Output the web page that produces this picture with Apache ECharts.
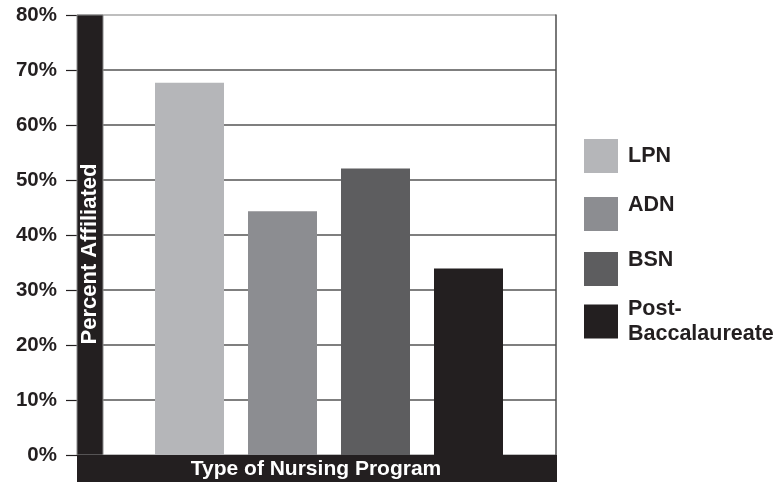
<!DOCTYPE html>
<html>
<head>
<meta charset="utf-8">
<script src="https://cdn.jsdelivr.net/npm/echarts@6/dist/echarts.min.js"></script>
<style>
  html, body { margin: 0; padding: 0; background: #fff; }
  #chart { width: 778px; height: 482px; }
</style>
</head>
<body>
<div id="chart"></div>
<script>
const programs = ['LPN', 'ADN', 'BSN', 'Post-\nBaccalaureate']
const percentAffiliated = [67.7, 44.3, 52.1, 33.9]
const barColors = ['#b5b6b9', '#8c8d91', '#5d5d5f', '#231f20']
const yMin = 0
const yMax = 80
const yStep = 10

const dark = '#231f20'
const font = 'Liberation Sans'

const chart = echarts.init(document.getElementById('chart'))

// one stacked series per program so the legend gets one swatch each
const series = programs.map((name, i) => ({
  name,
  type: 'bar',
  xAxisIndex: 1,
  yAxisIndex: 1,
  stack: 'all',
  barWidth: 69,
  itemStyle: { color: barColors[i] },
  data: programs.map((_, j) => (j === i ? percentAffiliated[i] : '-'))
}))

// legend text sits a little high next to its swatch in the original
const legendLabel = name => {
  if (name === 'LPN') return '{c|' + name + '}'
  if (name.indexOf('\n') >= 0) {
    const parts = name.split('\n')
    return '{t|' + parts[0] + '}\n{b|' + parts[1] + '}'
  }
  return '{h|' + name + '}'
}
const legendTop = [139, 139 + 55, 139 + 110, 290]

const txt = { fontSize: 21.5, fontWeight: 'bold', color: dark, fontFamily: font }

const legends = programs.map((name, i) => ({
  orient: 'vertical',
  left: 584,
  top: legendTop[i],
  icon: 'rect',
  itemWidth: 34,
  itemHeight: 34,
  padding: 0,
  selectedMode: false,
  formatter: legendLabel,
  textStyle: {
    ...txt,
    rich: {
      c: { ...txt, lineHeight: 25, padding: [0, 0, 0, 5] },
      t: { ...txt, lineHeight: 25, padding: [8, 0, 0, 5] },
      b: { ...txt, lineHeight: 33, padding: [0, 0, 0, 5] },
      h: { ...txt, lineHeight: 16, padding: [0, 0, 18, 5] }
    }
  },
  data: [name]
}))

const option = {
  animation: false,
  backgroundColor: '#fff',
  textStyle: { fontFamily: font },
  grid: [
    { left: 77, right: 222, top: 15, bottom: 27, outerBoundsMode: 'none' },
    { left: 143, right: 263, top: 15, bottom: 27, outerBoundsMode: 'none' }
  ],
  xAxis: [
    {
      gridIndex: 0,
      type: 'category',
      data: [''],
      axisLine: { show: false },
      axisTick: { show: false },
      axisLabel: { show: false }
    },
    {
      gridIndex: 1,
      type: 'category',
      data: programs,
      show: false
    }
  ],
  yAxis: [
    {
      gridIndex: 0,
      type: 'value',
      min: yMin,
      max: yMax,
      interval: yStep,
      axisLine: { show: false },
      axisTick: { show: true, inside: false, length: 11, lineStyle: { color: dark, width: 1.2 } },
      axisLabel: {
        formatter: '{value}%',
        margin: 20,
        color: dark,
        fontSize: 20.5,
        fontWeight: 'bold',
        fontFamily: font
      },
      splitLine: {
        lineStyle: {
          color: ['#a9a9a9', '#555', '#555', '#555', '#555', '#555', '#555', '#555', '#a9a9a9'],
          width: 1.5
        }
      }
    },
    {
      gridIndex: 1,
      type: 'value',
      min: yMin,
      max: yMax,
      show: false
    },
    {
      gridIndex: 0,
      type: 'value',
      position: 'right',
      min: yMin,
      max: yMax,
      axisLine: { show: true, lineStyle: { color: '#4d4d4d', width: 1.5 } },
      axisTick: { show: false },
      axisLabel: { show: false },
      splitLine: { show: false }
    }
  ],
  legend: legends,
  graphic: [
    {
      type: 'rect',
      z: 5,
      shape: { x: 77, y: 15, width: 26, height: 440 },
      style: { fill: dark, stroke: '#8a8a8a', lineWidth: 1 }
    },
    {
      type: 'rect',
      z: 5,
      shape: { x: 77, y: 455, width: 480, height: 27 },
      style: { fill: dark }
    },
    {
      type: 'text',
      z: 6,
      x: 90,
      y: 254,
      rotation: Math.PI / 2,
      style: {
        text: 'Percent Affiliated',
        fill: '#fff',
        font: 'bold 22px "Liberation Sans"',
        align: 'center',
        verticalAlign: 'middle'
      }
    },
    {
      type: 'text',
      z: 6,
      x: 316,
      y: 469,
      style: {
        text: 'Type of Nursing Program',
        fill: '#fff',
        font: 'bold 21px "Liberation Sans"',
        align: 'center',
        verticalAlign: 'middle'
      }
    }
  ],
  series
}

chart.setOption(option)
</script>
</body>
</html>
